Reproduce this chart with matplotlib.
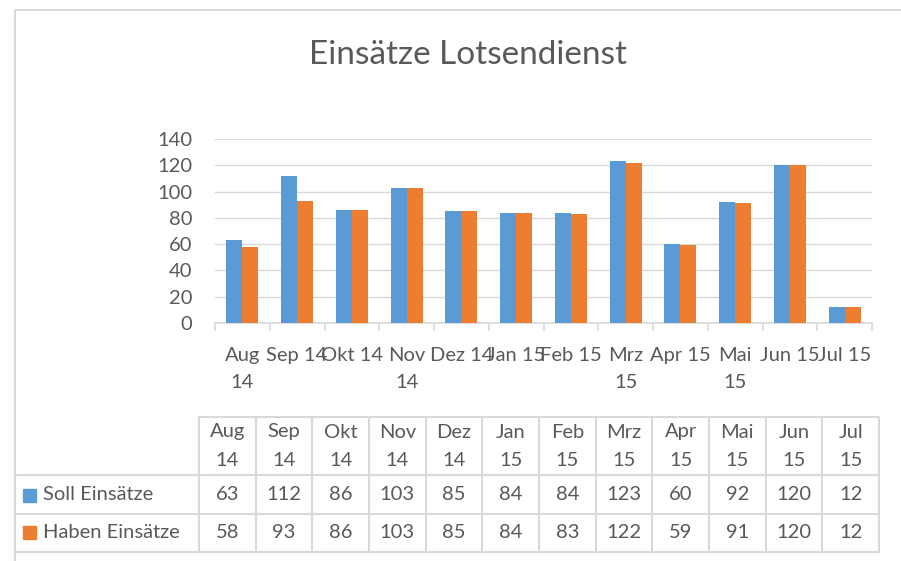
import numpy as np
import matplotlib.pyplot as plt
from matplotlib.lines import Line2D
from matplotlib.patches import Rectangle

# Data ---------
months = ["Aug 14", "Sep 14", "Okt 14", "Nov 14", "Dez 14", "Jan 15",
          "Feb 15", "Mrz 15", "Apr 15", "Mai 15", "Jun 15", "Jul 15"]
axis_labels = ["Aug\n14", "Sep 14", "Okt 14", "Nov\n14", "Dez 14", "Jan 15",
               "Feb 15", "Mrz\n15", "Apr 15", "Mai\n15", "Jun 15", "Jul 15"]
soll = [63, 112, 86, 103, 85, 84, 84, 123, 60, 92, 120, 12]
haben = [58, 93, 86, 103, 85, 84, 83, 122, 59, 91, 120, 12]
series_names = ["Soll Einsätze", "Haben Einsätze"]

BLUE = "#5B9BD5"
ORANGE = "#ED7D31"
GRID = "#D9D9D9"
TXT = "#595959"
W, H = 901, 561
FS = 14.5

plt.rcParams['font.family'] = ['Lato', 'DejaVu Sans']


def fx(px):
    return px / W


def fy(py):
    return 1 - py / H


fig = plt.figure(figsize=(W / 100, H / 100), dpi=100)

# chart area border (top + left)
fig.add_artist(Line2D([fx(15), fx(15), fx(901)], [fy(561), fy(10), fy(10)],
                      color=GRID, lw=1.5, transform=fig.transFigure))

fig.text(fx(468), fy(55), "Einsätze Lotsendienst", ha="center", va="center",
         fontsize=24, color=TXT)

# plot area
ax = fig.add_axes([fx(215), fy(323), fx(872) - fx(215), fy(139) - fy(323)])
x = np.arange(len(months))
bw = 0.29
ax.bar(x - bw / 2, soll, bw, color=BLUE, zorder=3)
ax.bar(x + bw / 2, haben, bw, color=ORANGE, zorder=3)

ax.set_xlim(-0.5, len(months) - 0.5)
ax.set_ylim(0, 140)
ax.set_yticks(range(0, 141, 20))
ax.yaxis.grid(True, color=GRID, lw=1, zorder=0)
ax.tick_params(axis="y", length=0, pad=16.5, labelsize=FS, labelcolor=TXT)
for s in ["top", "right", "left"]:
    ax.spines[s].set_visible(False)
ax.spines["bottom"].set_color(GRID)
ax.spines["bottom"].set_linewidth(1.2)
ax.set_xticks(np.arange(-0.5, len(months), 1))
ax.set_xticklabels([])
ax.tick_params(axis="x", length=6, color=GRID, width=1.2)

# category labels (wrapped/overlapping like the original)
for i, lab in enumerate(axis_labels):
    ax.text(i, -18, lab, ha="center", va="top", fontsize=FS, color=TXT,
            linespacing=1.75)

# data table below
col0 = 199
col_w = (879 - 199) / len(months)
rows_y = [416.7, 475, 514, 551.7]
line_kw = dict(color=GRID, lw=1.5, transform=fig.transFigure)
fig.add_artist(Line2D([fx(col0), fx(879)], [fy(rows_y[0])] * 2, **line_kw))
for yy in rows_y[1:]:
    fig.add_artist(Line2D([fx(15), fx(879)], [fy(yy)] * 2, **line_kw))
for j in range(len(months) + 1):
    xx = col0 + j * col_w
    fig.add_artist(Line2D([fx(xx)] * 2, [fy(rows_y[0]), fy(rows_y[3])], **line_kw))

for j, m in enumerate(months):
    cx = col0 + (j + 0.5) * col_w
    a, b = m.split()
    fig.text(fx(cx), fy(432), a, ha="center", va="center", fontsize=FS, color=TXT)
    fig.text(fx(cx), fy(461), b, ha="center", va="center", fontsize=FS, color=TXT)
    fig.text(fx(cx), fy(495), str(soll[j]), ha="center", va="center", fontsize=FS, color=TXT)
    fig.text(fx(cx), fy(532), str(haben[j]), ha="center", va="center", fontsize=FS, color=TXT)

for name, col, cy in zip(series_names, [BLUE, ORANGE], [495, 532]):
    fig.add_artist(Rectangle((fx(23), fy(cy + 6.5)), fx(13), 13 / H, color=col,
                             transform=fig.transFigure))
    fig.text(fx(43), fy(cy), name, ha="left", va="center", fontsize=FS, color=TXT)

fig.savefig("out.png", dpi=100)
